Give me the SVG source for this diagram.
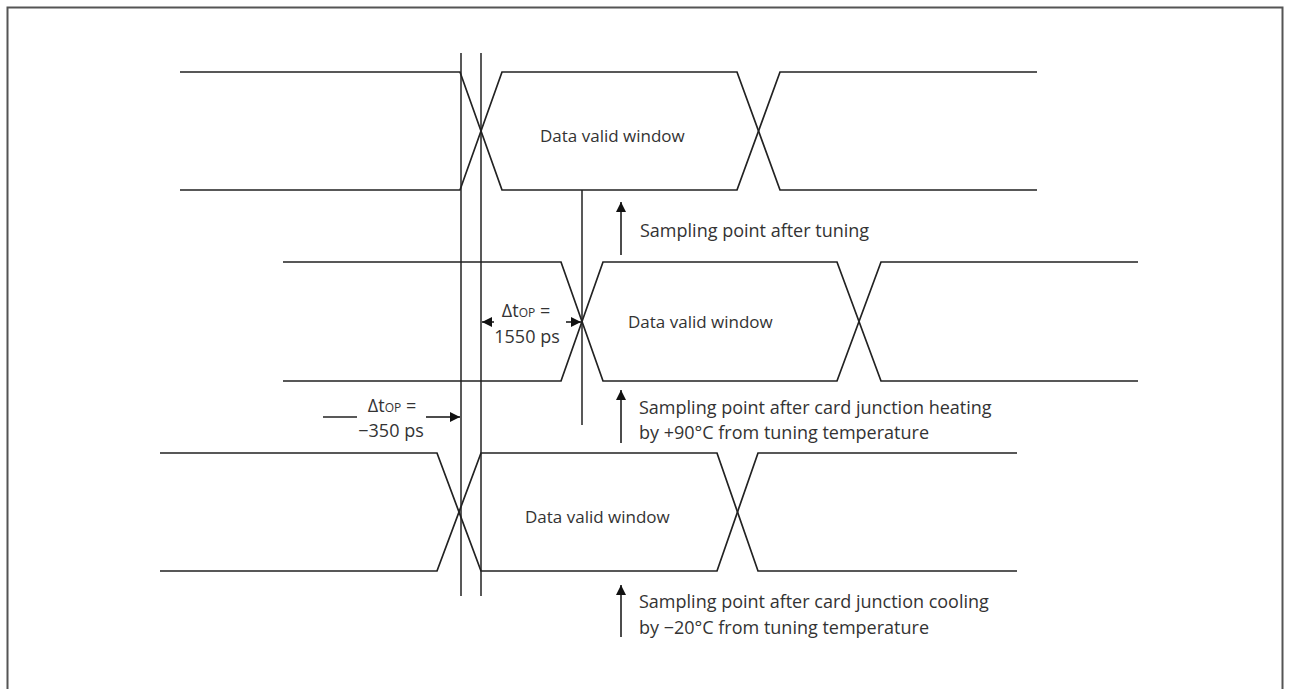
<svg xmlns="http://www.w3.org/2000/svg" width="1291" height="689" viewBox="0 0 1291 689">
<defs>
<marker id="ah" viewBox="0 0 10 10" refX="10" refY="5" markerWidth="11" markerHeight="10" markerUnits="userSpaceOnUse" orient="auto">
<path d="M0,0 L10,5 L0,10 z" fill="#111"/>
</marker>
</defs>
<style>
.sig{fill:none;stroke:#222;stroke-width:1.7}
.ref{fill:none;stroke:#222;stroke-width:1.5}
.arr{fill:none;stroke:#111;stroke-width:1.5;marker-end:url(#ah)}
.t{font-family:"Open Sans","Liberation Sans",sans-serif;font-size:18px;fill:#333}
.dv{font-size:17px}
.c{text-anchor:middle}
.sub{font-size:12px}
</style>
<rect x="0" y="0" width="1291" height="689" fill="#fff"/>
<rect x="7.5" y="7.5" width="1275" height="700" fill="none" stroke="#555" stroke-width="2"/>

<g id="row1">
<path class="sig" d="M180,72 H460 L502,190 H737 L780,72 H1037"/>
<path class="sig" d="M180,190 H460 L502,72 H737 L780,190 H1037"/>
<text class="t dv" x="540" y="142">Data valid window</text>
</g>

<g id="row2">
<path class="sig" d="M283,262 H561 L603,381 H837 L881,262 H1138"/>
<path class="sig" d="M283,381 H561 L603,262 H837 L881,381 H1138"/>
<text class="t dv" x="628" y="328">Data valid window</text>
</g>

<g id="row3">
<path class="sig" d="M160,453 H437 L481,571 H717 L758,453 H1017"/>
<path class="sig" d="M160,571 H437 L481,453 H717 L758,571 H1017"/>
<text class="t dv" x="525" y="523">Data valid window</text>
</g>

<g id="connectors">
<line class="ref" x1="461" y1="53" x2="461" y2="596"/>
<line class="ref" x1="481" y1="53" x2="481" y2="596"/>
<line class="ref" x1="582" y1="190" x2="582" y2="425"/>
<line class="arr" x1="621" y1="255" x2="621" y2="202"/>
<line class="arr" x1="621" y1="443" x2="621" y2="390"/>
<line class="arr" x1="621" y1="637" x2="621" y2="585"/>
<line class="arr" x1="494" y1="322" x2="482" y2="322"/>
<line class="arr" x1="566" y1="322" x2="581" y2="322"/>
<line class="ref" x1="323" y1="417" x2="357" y2="417"/>
<line class="arr" x1="426" y1="417" x2="460" y2="417"/>
</g>

<g id="label-tuning">
<text class="t" x="640" y="237">Sampling point after tuning</text>
</g>
<g id="label-heating">
<text class="t" x="639" y="414">Sampling point after card junction heating</text>
<text class="t" x="639" y="439">by +90°C from tuning temperature</text>
</g>
<g id="label-cooling">
<text class="t" x="639" y="608">Sampling point after card junction cooling</text>
<text class="t" x="639" y="634">by −20°C from tuning temperature</text>
</g>
<g id="label-dt1550">
<text class="t c" x="526" y="317">Δt<tspan class="sub">OP</tspan> =</text>
<text class="t c" x="527" y="343">1550 ps</text>
</g>
<g id="label-dt350">
<text class="t c" x="392" y="412">Δt<tspan class="sub">OP</tspan> =</text>
<text class="t c" x="391" y="437">−350 ps</text>
</g>
</svg>
